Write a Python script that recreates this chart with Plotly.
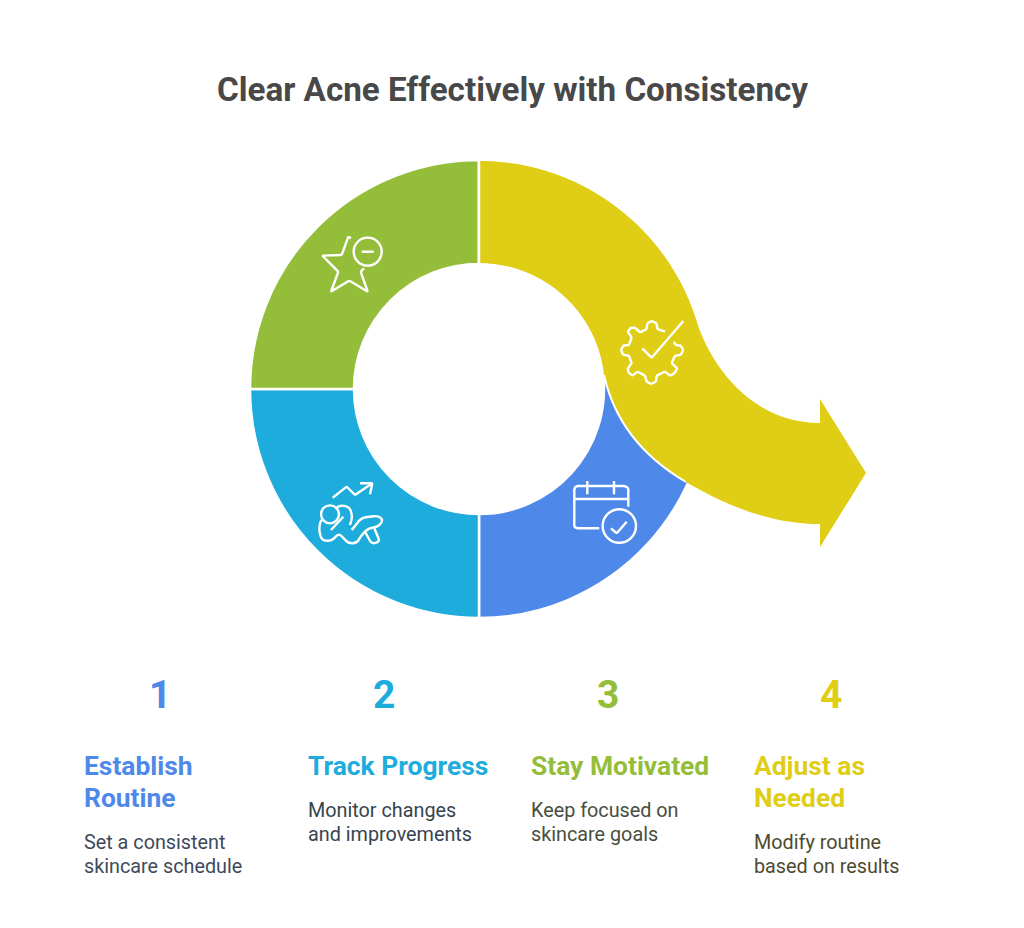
import math

import plotly.graph_objects as go

title = 'Clear Acne Effectively with Consistency'
step_numbers = ['1', '2', '3', '4']
step_titles = [['Establish', 'Routine'], ['Track Progress'], ['Stay Motivated'], ['Adjust as', 'Needed']]
step_notes = [
    ['Set a consistent', 'skincare schedule'],
    ['Monitor changes', 'and improvements'],
    ['Keep focused on', 'skincare goals'],
    ['Modify routine', 'based on results'],
]
# sweep of each ring sector in degrees, clockwise
ring_labels = ['Establish Routine', 'Track Progress', 'Stay Motivated', 'Adjust as Needed']
ring_degrees = [95, 90, 90, 85]

BLUE = '#4e88e8'
CYAN = '#1eacdc'
GREEN = '#94be3a'
YELLOW = '#e0cd15'
step_colors = [BLUE, CYAN, GREEN, YELLOW]
note_colors = ['#3f4a5c', '#35454f', '#474f3d', '#4d4b2f']
column_left = [81.5, 305.5, 528.5, 751.5]
number_center = [160, 384, 608, 831]

W, H = 1024, 928
CX, CY, R_OUT, R_IN = 479, 389, 228, 126
ICON_WIDTH = 2.4


def arc(r, a0, a1):
    # bezier for a ring arc, angles clockwise from 12 o'clock
    t0, t1 = math.radians(a0), math.radians(a1)
    k = 4 / 3 * math.tan((t1 - t0) / 4)
    p0 = (CX + r * math.sin(t0), CY - r * math.cos(t0))
    p3 = (CX + r * math.sin(t1), CY - r * math.cos(t1))
    c1 = (p0[0] + k * r * math.cos(t0), p0[1] + k * r * math.sin(t0))
    c2 = (p3[0] - k * r * math.cos(t1), p3[1] - k * r * math.sin(t1))
    return 'C %.1f,%.1f %.1f,%.1f %.1f,%.1f ' % (*c1, *c2, *p3)


def towards(a, b, dist):
    d = math.hypot(b[0] - a[0], b[1] - a[1])
    f = min(dist, d / 2) / d
    return a[0] + (b[0] - a[0]) * f, a[1] + (b[1] - a[1]) * f


def poly(origin, pts, radius=1.2):
    p = [(origin[0] + x / 3, origin[1] + y / 3) for x, y in pts]
    path = 'M %.1f,%.1f ' % p[0]
    for prev, corner, nxt in zip(p, p[1:], p[2:]):
        path += 'L %.1f,%.1f ' % towards(corner, prev, radius)
        path += 'Q %.1f,%.1f %.1f,%.1f ' % (*corner, *towards(corner, nxt, radius))
    return path + 'L %.1f,%.1f' % p[-1]


def add_icon_line(fig, origin, pts, radius=1.2):
    fig.add_shape(type='path', path=poly(origin, pts, radius), line=dict(color='white', width=ICON_WIDTH),
                  xref='x', yref='y', layer='above')


def add_icon_circle(fig, origin, center, r):
    x = origin[0] + center[0] / 3
    y = origin[1] + center[1] / 3
    fig.add_shape(type='circle', x0=x - r, x1=x + r, y0=y - r, y1=y + r,
                  line=dict(color='white', width=ICON_WIDTH), xref='x', yref='y', layer='above')


fig = go.Figure()

# empty trace so the pixel axes exist for shapes and annotations
fig.add_trace(go.Scatter(x=[0, W], y=[0, H], mode='markers', marker=dict(opacity=0),
                         hoverinfo='skip', showlegend=False))

# the white slice outline eats 1px on each rim, so widen the domain to suit
fig.add_trace(go.Pie(
    labels=ring_labels,
    values=ring_degrees,
    sort=False,
    direction='clockwise',
    rotation=85,
    hole=(R_IN - 1) / (R_OUT + 1),
    marker=dict(colors=step_colors, line=dict(color='white', width=2.5)),
    textinfo='none',
    hoverinfo='label',
    showlegend=False,
    domain=dict(x=[(CX - R_OUT - 1) / W, (CX + R_OUT + 1) / W],
                y=[1 - (CY + R_OUT + 1) / H, 1 - (CY - R_OUT - 1) / H]),
))

# yellow sector running out into the arrow
arrow = 'M %d,%d ' % (CX, CY - R_OUT)
arrow += arc(R_OUT, 0, 72)
arrow += 'C 706,355 745,423 820,423 '
arrow += 'L 820,399 L 866,473 L 820,547 L 820,524 '
arrow += 'C 770,524 725,505 686,482 '
arrow += 'C 657,465 617,434 604,375 '
arrow += 'L 603,367 '
arrow += arc(R_IN, 80, 0)
arrow += 'Z'
fig.add_shape(type='path', path=arrow, fillcolor=YELLOW, line=dict(width=0),
              xref='x', yref='y', layer='above')
# white gap against the blue and green sectors
fig.add_shape(type='path', path='M 686,482 C 657,465 617,434 604,375',
              line=dict(color='white', width=2), xref='x', yref='y', layer='above')
fig.add_shape(type='line', x0=CX, x1=CX, y0=CY - R_OUT - 1, y1=CY - R_IN + 1,
              line=dict(color='white', width=2.5), xref='x', yref='y', layer='above')

# star with minus badge
star = (315, 230)
add_icon_line(fig, star, [(108, 25), (100, 20), (80, 75), (22, 77), (70, 125), (48, 185),
                          (103, 152), (158, 185), (137, 125), (147, 115)])
add_icon_circle(fig, star, (158, 65), 14)
add_icon_line(fig, star, [(140, 65), (176, 65)])

# person with rising arrow
person = (315, 475)
add_icon_line(fig, person, [(53, 68), (95, 35), (120, 60), (172, 25)])
add_icon_line(fig, person, [(135, 25), (172, 25), (165, 58)])
add_icon_circle(fig, person, (45, 118), 9)
add_icon_line(fig, person, [(48, 165), (85, 125)])
add_icon_line(fig, person, [(60, 100), (80, 90), (105, 98), (112, 125), (105, 150)], radius=4)
add_icon_line(fig, person, [(110, 165), (140, 128), (188, 122), (205, 135), (190, 155), (160, 160), (140, 180),
                            (125, 205), (100, 205), (72, 175), (50, 197), (22, 197), (12, 170), (15, 140), (25, 130)],
              radius=4)
add_icon_line(fig, person, [(150, 170), (170, 207), (195, 200), (178, 160)], radius=4)

# calendar with check
cal = (565, 475)
add_icon_line(fig, cal, [(103, 160), (35, 160), (28, 155), (28, 40), (35, 33), (180, 33), (190, 40), (190, 95)])
add_icon_line(fig, cal, [(28, 72), (190, 72)])
add_icon_line(fig, cal, [(67, 18), (67, 58)])
add_icon_line(fig, cal, [(147, 18), (147, 58)])
add_icon_circle(fig, cal, (163, 153), 16.7)
add_icon_line(fig, cal, [(138, 160), (155, 175), (185, 140)])

# gear with check
gear = (615, 315)
add_icon_line(fig, gear, [(150, 50), (127, 42), (125, 25), (110, 18), (97, 25), (95, 42), (75, 52), (60, 38),
                          (48, 38), (38, 50), (50, 67), (42, 90), (25, 92), (18, 105), (25, 120), (42, 122),
                          (50, 145), (38, 160), (40, 172), (52, 182), (68, 170), (90, 182), (95, 200),
                          (108, 207), (123, 200), (125, 182), (150, 170), (165, 182), (178, 175), (187, 160),
                          (170, 145), (180, 122), (197, 120), (205, 105), (197, 92), (182, 90), (177, 80)])
add_icon_line(fig, gear, [(82, 100), (110, 128), (205, 18)])

fig.add_annotation(x=512, y=89, text='<b>%s</b>' % title, showarrow=False, xanchor='center', yanchor='middle',
                   font=dict(family='Roboto', size=33.2, color='#484848'))

for i in range(4):
    fig.add_annotation(x=number_center[i], y=695, text='<b>%s</b>' % step_numbers[i], showarrow=False,
                       xanchor='center', yanchor='middle',
                       font=dict(family='Roboto', size=39, color=step_colors[i]))
    # one annotation per line, the source leading is tighter than plotly's
    y = 766
    for line in step_titles[i]:
        fig.add_annotation(x=column_left[i], y=y, text='<b>%s</b>' % line, showarrow=False,
                           xanchor='left', yanchor='middle',
                           font=dict(family='Roboto', size=26.4, color=step_colors[i]))
        y += 32
    y += 12
    for line in step_notes[i]:
        fig.add_annotation(x=column_left[i], y=y, text=line, showarrow=False,
                           xanchor='left', yanchor='middle',
                           font=dict(family='Roboto', size=19.8, color=note_colors[i]))
        y += 24

fig.update_layout(
    width=W,
    height=H,
    margin=dict(l=0, r=0, t=0, b=0),
    paper_bgcolor='white',
    plot_bgcolor='white',
    xaxis=dict(range=[0, W], visible=False, fixedrange=True),
    yaxis=dict(range=[H, 0], visible=False, fixedrange=True),
)

fig.write_html('out.html', config=dict(displayModeBar=False), post_script="document.body.style.margin='0';")
